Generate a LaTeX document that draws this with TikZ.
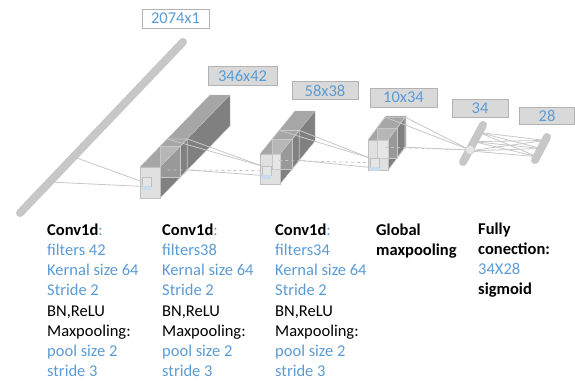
\documentclass[tikz,border=0pt]{standalone}
\usepackage{fontspec}
\setmainfont{Carlito}
\usetikzlibrary{calc}
\definecolor{dimblue}{HTML}{5B9BD5}
\definecolor{tint}{HTML}{C9DCEF}
\tikzstyle{bar}=[line width=8pt,line cap=round,draw=black!22]
\tikzstyle{edge}=[draw=black!22,line width=0.8pt]
\tikzstyle{hidden}=[edge,dashed]
\tikzstyle{slice}=[draw=black!22,line width=0.8pt]
\tikzstyle{dim}=[draw=black!30,fill=black!15,text=dimblue,minimum height=19pt,inner sep=0pt,font=\fontsize{16.5}{18}\selectfont]
\tikzstyle{kernel}=[draw=black!25,fill=black!10,minimum size=9pt,inner sep=0pt,anchor=north west]
\tikzstyle{info}=[anchor=north west,inner sep=0pt,align=left,font=\fontsize{16.5}{20.2}\selectfont]

\begin{document}
\begin{tikzpicture}[x=1pt,y=-1pt]
        \useasboundingbox (0,0) rectangle (575,380);
        \coordinate (in1) at (183,42);
        \coordinate (in2) at (20,213);
        \coordinate (i1) at (74,157);
        \coordinate (i2) at (49,182);
        \foreach \n/\x/\y/\w/\h/\dx/\dy/\ta/\tb/\ko in {1/140/167/20/31/70/-72/0.29/0.39/10,
                2/260/154/20/30/35/-43/0.34/0.55/12, 3/368/140/20/30/18/-24/0.5/0.95/18}{
            \fill[black!35,draw=black!25] (\x,\y) -- ++(\w,0) -- ++(\dx,\dy) -- ++(-\w,0) -- cycle;
            \fill[black!50,draw=black!25] (\x+\w,\y) -- ++(\dx,\dy) -- ++(0,\h) -- ++(-\dx,-\dy) -- cycle;
            \fill[black!12,draw=black!25] (\x,\y) rectangle ++(\w,\h);
            \coordinate (f\n-tl) at ({\x+\ta*\dx},{\y+\ta*\dy});
            \coordinate (f\n-tr) at ({\x+\w+\ta*\dx},{\y+\ta*\dy});
            \coordinate (f\n-br) at ({\x+\w+\ta*\dx},{\y+\h+\ta*\dy});
            \coordinate (s\n-tl) at ({\x+\tb*\dx},{\y+\tb*\dy});
            \coordinate (s\n-tr) at ({\x+\w+\tb*\dx},{\y+\tb*\dy});
            \coordinate (s\n-br) at ({\x+\w+\tb*\dx},{\y+\h+\tb*\dy});
            \coordinate (s\n-bl) at ({\x+\tb*\dx},{\y+\h+\tb*\dy});
            \fill[white,opacity=0.2] (f\n-tl) rectangle (f\n-br);
            \path[slice] (f\n-tl) rectangle (f\n-br);
            \path[slice] (f\n-tl) -- (s\n-tl) -- (s\n-tr) -- (f\n-tr);
            \path[slice] (s\n-tr) -- (s\n-br) -- (f\n-br);
            \node[kernel] (k\n) at (\x+2,\y+\ko) {};
            \fill[tint] (k\n.south west) rectangle ++(9,4);
        }
        \path[edge] (i1) -- (k1.west);
        \path[edge] (i2) -- (k1.south west);
        \path[bar] (in1) -- (in2);
        \path[edge] (s1-tl) -- (k2.north west);
        \path[edge] (s1-tr) -- (k2.north west);
        \path[hidden] (s1-bl) -- (k2.west);
        \path[edge] (s1-br) -- (k2.south west);
        \path[edge] (s2-tl) -- (k3.north west);
        \path[edge] (s2-tr) -- (k3.north west);
        \path[hidden] (s2-bl) -- (k3.west);
        \path[edge] (s2-br) -- (k3.south west);
        \coordinate (fa1) at (483,125);
        \coordinate (fa2) at (463,162);
        \coordinate (fb1) at (547,137);
        \coordinate (fb2) at (535,160);
        \node[circle,fill=black!12,minimum size=9pt,inner sep=0pt] (fc) at (470,150) {};
        \path[edge] (s3-tl) -- (fc);
        \path[edge] (s3-tr) -- (fc);
        \path[hidden] (s3-bl) -- (fc);
        \path[edge] (s3-br) -- (fc);
        \foreach \a in {0.2,0.45,0.7}
            \foreach \b in {0.15,0.5,0.85}
                \path[edge] ($(fa1)!\a!(fa2)$) -- ($(fb1)!\b!(fb2)$);
        \path[bar] (fa1) -- (fa2);
        \path[bar] (fb1) -- (fb2);
        \node[circle,fill=black!10,draw=black!20,minimum size=9pt,inner sep=0pt] at (fc) {};
        \node[dim,fill=white,minimum width=67pt] (d0) at (175.5,18.5) {2074x1};
        \node[dim,minimum width=69pt] (d1) at (242.5,75.5) {346x42};
        \node[dim,minimum width=66pt,minimum height=18pt] (d2) at (325,90.5) {58x38};
        \node[dim,minimum width=67pt] (d3) at (403.5,97.5) {10x34};
        \node[dim,minimum width=56pt,minimum height=18pt] (d4) at (480,108) {34};
        \node[dim,minimum width=55pt,minimum height=17pt] (d5) at (547,115.5) {28};
        \node[info] (c1) at (47,223.5) {\textbf{Conv1d}\textcolor{dimblue}{:}\\ \textcolor{dimblue}{filters 42}\\
            \textcolor{dimblue}{Kernal size 64}\\ \textcolor{dimblue}{Stride 2}\\ BN,ReLU\\ Maxpooling:\\
            \textcolor{dimblue}{pool size 2}\\ \textcolor{dimblue}{stride 3}};
        \node[info] (c2) at (162,223.5) {\textbf{Conv1d}\textcolor{dimblue}{:}\\ \textcolor{dimblue}{filters38}\\
            \textcolor{dimblue}{Kernal size 64}\\ \textcolor{dimblue}{Stride 2}\\ BN,ReLU\\ Maxpooling:\\
            \textcolor{dimblue}{pool size 2}\\ \textcolor{dimblue}{stride 3}};
        \node[info] (c3) at (275,223.5) {\textbf{Conv1d}\textcolor{dimblue}{:}\\ \textcolor{dimblue}{filters34}\\
            \textcolor{dimblue}{Kernal size 64}\\ \textcolor{dimblue}{Stride 2}\\ BN,ReLU\\ Maxpooling:\\
            \textcolor{dimblue}{pool size 2}\\ \textcolor{dimblue}{stride 3}};
        \node[info] (c4) at (376,223.5) {\textbf{Global}\\ \textbf{maxpooling}};
        \node[info] (c5) at (478,222.5) {\textbf{Fully}\\ \textbf{conection:}\\ \textcolor{dimblue}{34X28}\\ \textbf{sigmoid}};
    \end{tikzpicture}
\end{document}
